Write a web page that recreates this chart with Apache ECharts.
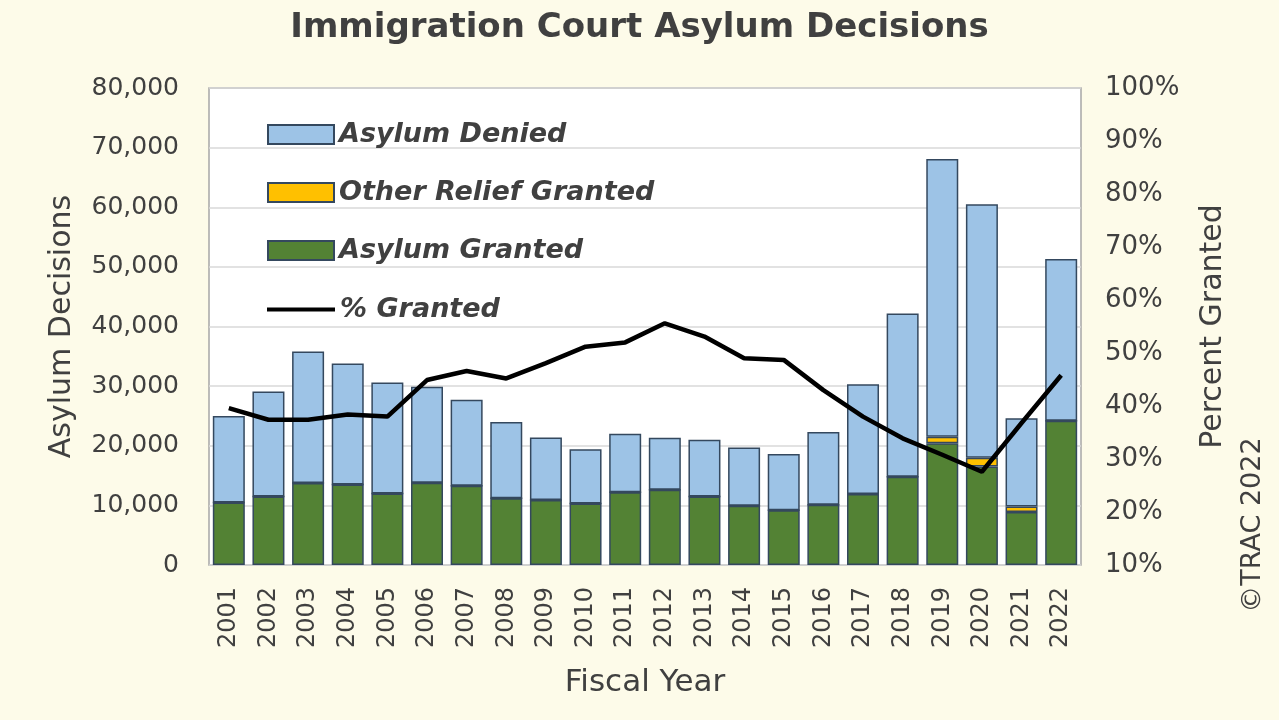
<!DOCTYPE html>
<html>
<head>
<meta charset="utf-8">
<script src="https://cdn.jsdelivr.net/npm/echarts@6/dist/echarts.min.js"></script>
<style>
html,body{margin:0;padding:0;background:#fdfbe9;}
#chart{width:1279px;height:720px;}
</style>
</head>
<body>
<div id="chart"></div>
<script>
const years = ['2001','2002','2003','2004','2005','2006','2007','2008','2009','2010','2011','2012','2013','2014','2015','2016','2017','2018','2019','2020','2021','2022'];
const asylumGranted = [10500,11500,13750,13500,12000,13800,13300,11200,10900,10300,12200,12600,11500,9950,9200,10100,11900,14800,20400,16500,8900,24200];
const otherRelief = [0,0,0,0,0,0,0,0,0,0,0,0,0,0,0,0,0,0,1100,1500,900,0];
const asylumDenied = [14500,17600,22050,20300,18600,16100,14400,12800,10500,9100,9800,8750,9500,9750,9400,12200,18400,27400,46600,42500,14800,27100];
const pctGranted = [39.6,37.4,37.4,38.4,38.0,44.9,46.6,45.2,48.1,51.2,52.0,55.6,53.1,49.0,48.7,43.0,38.0,33.9,30.8,27.6,36.8,45.8];
const leftTicks = {min:0, max:80000, interval:10000};
const rightTicks = {min:10, max:100, interval:10};

const txt = '#404040';
const font = 'DejaVu Sans, sans-serif';
const chart = echarts.init(document.getElementById('chart'));
const barBorder = {borderColor:'#34485e', borderWidth:1.5};
const legendText = {fontSize:27, fontStyle:'italic', fontWeight:'bold', color:txt, fontFamily:font};
chart.setOption({
  backgroundColor:'#fdfbe9',
  textStyle:{fontFamily:font},
  title:{text:'Immigration Court Asylum Decisions', left:'center', top:6,
    textStyle:{fontSize:34, fontWeight:'bold', color:txt, fontFamily:font}},
  legend:[
    {orient:'vertical', left:262, top:116, itemWidth:66, itemHeight:19, itemGap:31, icon:'rect',
     data:['Asylum Denied','Other Relief Granted','Asylum Granted'], textStyle:legendText},
    {orient:'vertical', left:262, top:291, itemWidth:68, itemHeight:4, icon:'rect',
     data:['% Granted'], textStyle:legendText}
  ],
  grid:{left:209, right:198, top:88, bottom:155, show:true, backgroundColor:'#ffffff', borderColor:'#a6a6a6', borderWidth:1.5},
  xAxis:{type:'category', data:years, name:'Fiscal Year', nameLocation:'middle', nameGap:102,
    nameTextStyle:{fontSize:31, color:txt, fontFamily:font},
    axisLine:{show:false}, axisTick:{show:false},
    axisLabel:{rotate:90, fontSize:24, color:txt, margin:22, fontFamily:font}},
  yAxis:[
    {type:'value', min:leftTicks.min, max:leftTicks.max, interval:leftTicks.interval,
     name:'Asylum Decisions', nameLocation:'middle', nameGap:132, nameRotate:90,
     nameTextStyle:{fontSize:30, color:txt, fontFamily:font},
     axisLine:{show:false}, axisTick:{show:false},
     axisLabel:{fontSize:25, color:txt, margin:30, fontFamily:font, formatter:v=>v.toLocaleString('en-US')},
     splitLine:{lineStyle:{color:'#d9d9d9', width:1.5}}},
    {type:'value', min:rightTicks.min, max:rightTicks.max, interval:rightTicks.interval, position:'right',
     name:'Percent Granted', nameLocation:'middle', nameGap:117, nameRotate:90,
     nameTextStyle:{fontSize:30, color:txt, fontFamily:font},
     axisLine:{show:false}, axisTick:{show:false},
     axisLabel:{fontSize:26, color:txt, margin:24, fontFamily:font, formatter:'{value}%'},
     splitLine:{show:false}}
  ],
  graphic:[{type:'text', x:1253, y:525, rotation:Math.PI/2,
    style:{text:'©TRAC 2022', fontSize:27, fill:txt, fontFamily:font, align:'center', verticalAlign:'middle'}}],
  series:[
    {name:'Asylum Granted', type:'bar', stack:'s', data:asylumGranted, barWidth:32,
     itemStyle:Object.assign({color:'#538234'}, barBorder)},
    {name:'Other Relief Granted', type:'bar', stack:'s', data:otherRelief, barWidth:32,
     itemStyle:Object.assign({color:'#ffc000'}, barBorder)},
    {name:'Asylum Denied', type:'bar', stack:'s', data:asylumDenied, barWidth:32,
     itemStyle:Object.assign({color:'#9dc3e6'}, barBorder)},
    {name:'% Granted', type:'line', yAxisIndex:1, data:pctGranted, symbol:'none',
     lineStyle:{color:'#000000', width:4.5}, itemStyle:{color:'#000000'}, z:5}
  ]
});
</script>
</body>
</html>
